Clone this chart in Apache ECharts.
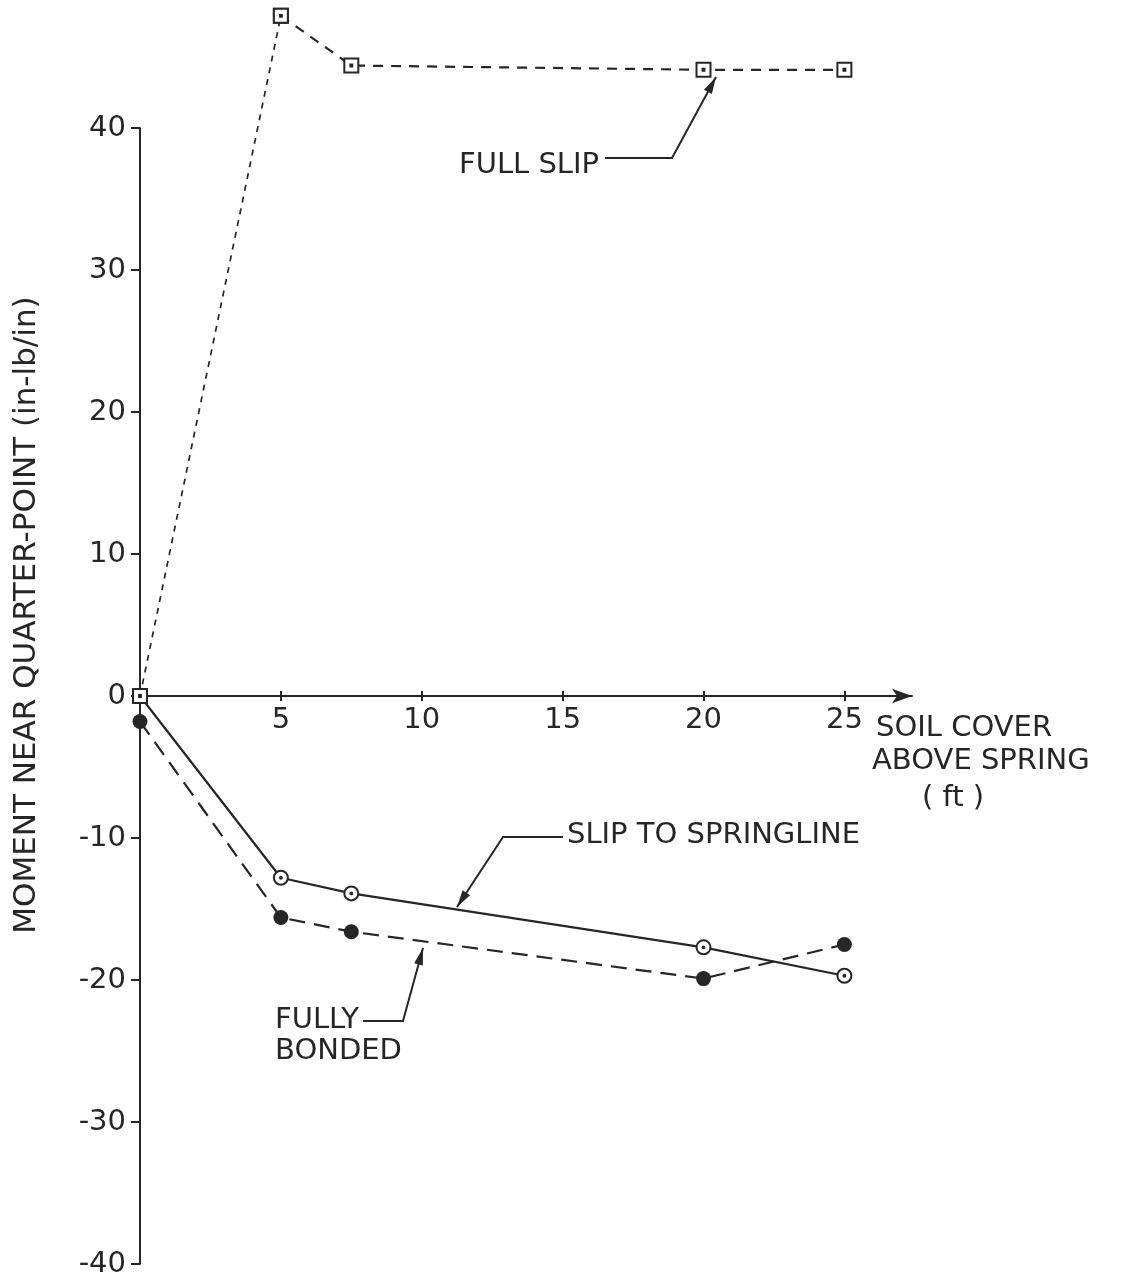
<!DOCTYPE html>
<html>
<head>
<meta charset="utf-8">
<script src="https://cdn.jsdelivr.net/npm/echarts@6/dist/echarts.min.js"></script>
<style>
  html, body { margin: 0; padding: 0; background: #fff; }
  #chart { width: 1124px; height: 1279px; }
</style>
</head>
<body>
<div id="chart"></div>
<script>
  // soil cover above spring (ft)
  const soilCover = [0, 5, 7.5, 20, 25]
  // moment near quarter-point (in-lb/in)
  const fullSlip = [0, 47.9, 44.4, 44.1, 44.1]
  const slipToSpringline = [0, -12.8, -13.9, -17.7, -19.7]
  const fullyBonded = [-1.8, -15.6, -16.6, -19.9, -17.5]
  const xTicks = [5, 10, 15, 20, 25]
  const yTicks = [-40, -30, -20, -10, 0, 10, 20, 30, 40]

  const ink = '#262626'
  const fontFamily = 'DejaVu Sans'
  const fontSize = 29

  // open markers with a dot in the middle
  const squareDot = 'emptyPath://M-6,-6H6V6H-6ZM-0.8,-0.8H0.8V0.8H-0.8Z'
  const circleDot = 'emptyPath://M0,-6A6,6,0,1,1,0,6A6,6,0,1,1,0,-6ZM0,-0.8A0.8,0.8,0,1,1,0,0.8A0.8,0.8,0,1,1,0,-0.8Z'

  const gridTop = 128
  const gridBottom = 15
  const gridHeight = 1279 - gridTop - gridBottom
  // the x axis sits on y = 0, halfway down the -40..40 range
  const zeroShift = gridHeight / 2

  function pairs (xs, ys) {
    return xs.map((x, i) => [x, ys[i]])
  }

  let measureCtx = document.createElement('canvas').getContext('2d')
  function textWidth (text, size) {
    measureCtx.font = (size || fontSize) + 'px "' + fontFamily + '"'
    return measureCtx.measureText(text).width
  }

  function label (text, x, y, align, size) {
    return {
      type: 'text', x: x, y: y, z: 10,
      style: {text: text, fill: ink, font: (size || fontSize) + 'px "' + fontFamily + '"', align: align || 'left', verticalAlign: 'middle'}
    }
  }

  // leader line ending in an arrow head at the last point
  function leader (pts) {
    const n = pts.length
    const [x1, y1] = pts[n - 2]
    const [x2, y2] = pts[n - 1]
    const a = Math.atan2(y2 - y1, x2 - x1)
    const L = 17, W = 4.5
    const bx = x2 - L * Math.cos(a), by = y2 - L * Math.sin(a)
    return [
      {type: 'polyline', z: 10, shape: {points: pts}, style: {stroke: ink, lineWidth: 2, fill: null}},
      {type: 'polygon', z: 10, shape: {points: [[x2, y2], [bx - W * Math.sin(a), by + W * Math.cos(a)], [bx + W * Math.sin(a), by - W * Math.cos(a)]]}, style: {fill: ink}}
    ]
  }

  const fullSlipPts = pairs(soilCover, fullSlip)

  let chart = echarts.init(document.getElementById('chart'))
  chart.setOption({
    backgroundColor: '#fff',
    animation: false,
    grid: {left: 140, right: 212, top: gridTop, bottom: gridBottom, containLabel: false, outerBoundsMode: 'none'},
    xAxis: [{
      type: 'value',
      min: 0,
      max: 27.4,
      interval: 5,
      position: 'bottom',
      offset: -zeroShift,
      splitLine: {show: false},
      axisLine: {onZero: false, symbol: ['none', 'arrow'], symbolSize: [11, 20], lineStyle: {color: ink, width: 2}},
      axisTick: {customValues: xTicks, length: 5, lineStyle: {color: ink, width: 2}},
      axisLabel: {customValues: xTicks, margin: 10, color: ink, fontSize: fontSize, fontFamily: fontFamily}
    }, {
      // upper half of the little tick crosses
      type: 'value',
      min: 0,
      max: 27.4,
      interval: 5,
      position: 'top',
      offset: -zeroShift,
      splitLine: {show: false},
      axisLine: {show: false, onZero: false},
      axisTick: {customValues: xTicks, length: 5, lineStyle: {color: ink, width: 2}},
      axisLabel: {show: false}
    }],
    yAxis: {
      type: 'value',
      min: -40,
      max: 40,
      interval: 10,
      splitLine: {show: false},
      axisLine: {onZero: false, lineStyle: {color: ink, width: 2}},
      axisTick: {customValues: yTicks, length: 9, lineStyle: {color: ink, width: 2}},
      axisLabel: {customValues: yTicks, margin: 14, color: ink, fontSize: fontSize, fontFamily: fontFamily}
    },
    series: [
      {
        name: 'SLIP TO SPRINGLINE',
        type: 'line',
        data: pairs(soilCover, slipToSpringline),
        clip: false,
        symbol: circleDot,
        symbolSize: 14,
        lineStyle: {color: ink, width: 2.2},
        itemStyle: {color: ink, borderWidth: 2.4}
      },
      {
        name: 'FULLY BONDED',
        type: 'line',
        data: pairs(soilCover, fullyBonded),
        clip: false,
        symbol: 'circle',
        symbolSize: 15,
        lineStyle: {color: ink, width: 2.2, type: [16, 9]},
        itemStyle: {color: ink}
      },
      {
        name: 'FULL SLIP (rise)',
        type: 'line',
        data: fullSlipPts.slice(0, 2),
        clip: false,
        symbol: squareDot,
        symbolSize: 14,
        lineStyle: {color: ink, width: 1.7, type: [6, 6]},
        itemStyle: {color: ink, borderWidth: 2.4}
      },
      {
        name: 'FULL SLIP',
        type: 'line',
        data: fullSlipPts.slice(1),
        clip: false,
        symbol: squareDot,
        symbolSize: 14,
        lineStyle: {color: ink, width: 2.2, type: [10, 8]},
        itemStyle: {color: ink, borderWidth: 2.4}
      }
    ]
  })

  // annotations
  const fullSlipEnd = 459 + textWidth('FULL SLIP') + 6
  const fullyEnd = 275 + textWidth('FULLY') + 4
  chart.setOption({
    graphic: [
      {
        type: 'text', x: 27, y: 615, rotation: Math.PI / 2, z: 10,
        style: {text: 'MOMENT NEAR QUARTER-POINT (in-lb/in)', fill: ink, font: '31px "' + fontFamily + '"', align: 'center', verticalAlign: 'middle'}
      },
      label('SOIL COVER', 876, 728),
      label('ABOVE SPRING', 872, 761),
      label('( ft )', 953, 798, 'center'),
      label('FULL SLIP', 459, 165),
      ...leader([[fullSlipEnd, 158], [672, 158], [716, 77]]),
      label('SLIP TO SPRINGLINE', 567, 835),
      ...leader([[563, 837], [503, 837], [457, 907]]),
      label('FULLY', 275, 1020),
      label('BONDED', 275, 1051),
      ...leader([[fullyEnd, 1021], [403, 1021], [423, 948]])
    ]
  })
</script>
</body>
</html>
